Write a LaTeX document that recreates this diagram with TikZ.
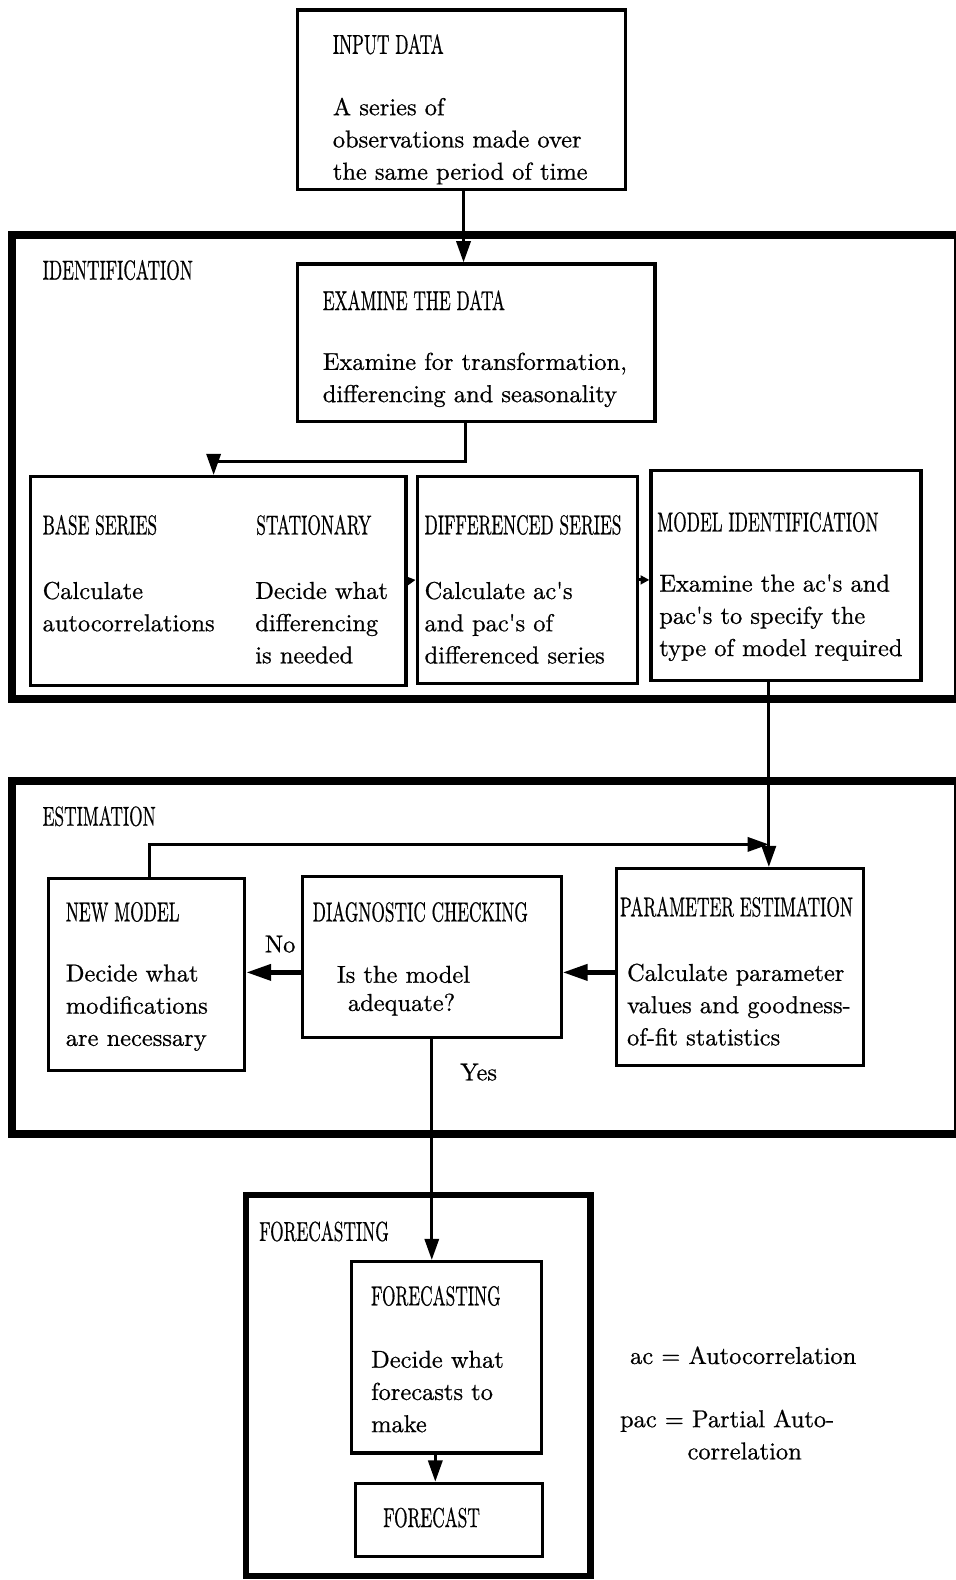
\documentclass[tikz,border=0pt]{standalone}
\usepackage{graphicx}
\usepackage{fontspec}
\setmainfont{lmroman10-regular.otf}[FakeBold=0.7]
\usetikzlibrary{arrows.meta,fit}
% condensed, slightly taller capitals for the box headings
\newcommand{\hdr}[1]{\scalebox{0.71}[1.12]{#1}}
% straight typewriter apostrophe
\newcommand{\ap}{\textquotesingle}
\begin{document}
\begin{tikzpicture}[x=0.02cm,y=-0.02cm,
  box/.style={draw, line width=1.8pt, inner sep=0pt, rectangle},
  frame/.style={draw, line width=4.5pt, inner sep=0pt, rectangle},
  txt/.style={anchor=west, inner sep=0pt, align=left, font=\fontsize{13.8}{18.2}\selectfont},
  lbl/.style={inner sep=0pt, font=\fontsize{13.8}{18.2}\selectfont},
  conn/.style={line width=1.7pt},
  arr/.style={conn, -{Triangle[length=12pt,width=8pt]}},
  sarr/.style={conn, -{Triangle[length=5pt,width=5pt]}},
  warr/.style={line width=2.4pt, -{Triangle[length=14pt,width=9pt]}}]
\useasboundingbox (0,0) rectangle (948,1568);

% stage frames
\node[frame, fit={(12,233)(951,694)}] (idf) {};
\node[frame, fit={(12,775)(951,1125)}] (estf) {};
\node[frame, line width=3.6pt, fit={(244,1186)(586,1564)}] (fcf) {};

% process boxes
\node[box, fit={(295,10)(621,188)}] (inp) {};
\node[box, fit={(295,262)(650,418)}] (exam) {};
\node[box, fit={(30,473)(403,680)}] (base) {};
\node[box, fit={(414,473)(633,678)}] (diff) {};
\node[box, fit={(646,467)(914,675)}] (model) {};
\node[box, fit={(48,872)(243,1062)}] (newm) {};
\node[box, fit={(300,870)(557,1030)}] (diag) {};
\node[box, fit={(612,862)(857,1057)}] (param) {};
\node[box, fit={(349,1252)(537,1442)}] (fcin) {};
\node[box, fit={(353,1472)(538,1545)}] (fcast) {};

% texts
\node[txt] (inp-h) at (330,44) {\hdr{INPUT DATA}};
\node[txt] (inp-b) at (330,140) {A series of\\observations made over\\the same period of time};

\node[txt] (idf-h) at (42,268) {\hdr{IDENTIFICATION}};
\node[txt] (exam-h) at (320,298) {\hdr{EXAMINE THE DATA}};
\node[txt] (exam-b) at (320,377) {Examine for transformation,\\differencing and seasonality};

\node[txt] (base-h) at (42,521) {\hdr{BASE SERIES}};
\node[txt] (stat-h) at (254,521) {\hdr{STATIONARY}};
\node[txt] (base-b) at (42,602) {Calculate\\autocorrelations};
\node[txt] (stat-b) at (253,618) {Decide what\\differencing\\is needed};
\node[txt] (diff-h) at (421,521) {\hdr{DIFFERENCED SERIES}};
\node[txt] (diff-b) at (421,618) {Calculate ac\ap s\\and pac\ap s of\\differenced series};
\node[txt] (model-h) at (652,518) {\hdr{MODEL IDENTIFICATION}};
\node[txt] (model-b) at (654,613) {Examine the ac\ap s and\\pac\ap s to specify the\\type of model required};

\node[txt] (estf-h) at (42,810) {\hdr{ESTIMATION}};
\node[txt] (newm-h) at (65,905) {\hdr{NEW MODEL}};
\node[txt] (newm-b) at (65,1000) {Decide what\\modifications\\are necessary};
\node[txt] (diag-h) at (310,905) {\hdr{DIAGNOSTIC CHECKING}};
\node[txt] (diag-b1) at (334,967) {Is the model};
\node[txt] (diag-b2) at (345,997) {adequate?};
\node[txt] (param-h) at (615,900) {\hdr{PARAMETER ESTIMATION}};
\node[txt] (param-b) at (622,997) {Calculate parameter\\values and goodness-\\of-fit statistics};
\node[lbl] (no) at (278,937) {No};
\node[lbl] (yes) at (475,1064) {Yes};

\node[txt] (fcf-h) at (257,1222) {\hdr{FORECASTING}};
\node[txt] (fcin-h) at (368,1286) {\hdr{FORECASTING}};
\node[txt] (fcin-b) at (368,1381) {Decide what\\forecasts to\\make};
\node[txt] (fcast-h) at (380,1506) {\hdr{FORECAST}};

\node[txt] (key1) at (625,1345) {ac = Autocorrelation};
\node[txt] (key2) at (615,1410) {pac = Partial Auto-};
\node[txt] (key3) at (682,1440) {correlation};

% connectors
\draw[arr] ([xshift=0.04cm]inp.south) -- ([xshift=0.04cm]inp.south |- exam.north);
\draw[arr] ([xshift=-0.21cm]exam.south) -- ++(0,38) -| ([xshift=-0.09cm]base.north);
\draw[sarr] (base.east) -- (diff.west);
\draw[sarr] (diff.east) -- (diff.east -| model.west);
\draw[arr] ([xshift=-0.34cm]model.south) -- ([xshift=-0.34cm]model.south |- param.north);
\coordinate (loopend) at (763,838);
\draw[arr] ([xshift=0.05cm]newm.north) |- (loopend);
\draw[warr] ([yshift=-0.11cm]param.west) -- ([yshift=-0.11cm]param.west -| diag.east);
\draw[warr] ([yshift=-0.3cm]diag.west) -- ([yshift=-0.3cm]diag.west -| newm.east);
\draw[arr] (diag.south) -- (diag.south |- fcin.north);
\draw[arr] ([xshift=-0.22cm]fcin.south) -- ([xshift=-0.22cm]fcin.south |- fcast.north);
\end{tikzpicture}
\end{document}
